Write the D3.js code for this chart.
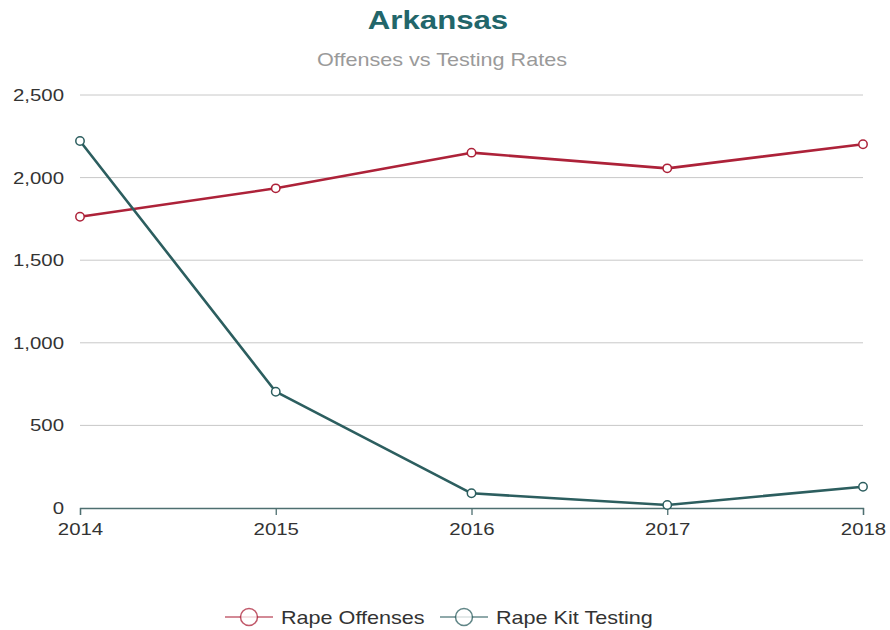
<!DOCTYPE html>
<html>
<head>
<meta charset="utf-8">
<script src="https://cdn.jsdelivr.net/npm/d3@7/dist/d3.min.js"></script>
<style>
  html, body { margin: 0; padding: 0; background: #fff; }
  svg { display: block; font-family: "Liberation Sans", Arial, Helvetica, sans-serif; }
</style>
</head>
<body>
<svg id="chart" width="890" height="630"></svg>
<script>
const years = ["2014", "2015", "2016", "2017", "2018"];
const rapeOffenses = [1763, 1935, 2151, 2056, 2202];
const rapeKitTesting = [2222, 704, 89, 18, 129];
const yTicks = [0, 500, 1000, 1500, 2000, 2500];
const seriesNames = ["Rape Offenses", "Rape Kit Testing"];
const seriesColors = ["#ad2239", "#2c5e5f"];

const series = [
  { name: seriesNames[0], color: seriesColors[0], values: rapeOffenses },
  { name: seriesNames[1], color: seriesColors[1], values: rapeKitTesting }
];

// Text is drawn slightly wide, so glyphs get a horizontal stretch.
const STRETCH = 1.2;

const svg = d3.select("#chart");
const margin = { left: 80, right: 27, top: 95, bottom: 122 };
const W = 890, H = 630;

const x = d3.scalePoint().domain(years).range([margin.left, W - margin.right]);
const y = d3.scaleLinear().domain([0, 2500]).range([H - margin.bottom, margin.top]);

function wideText(parent, px, py, anchor) {
  return parent.append("g")
    .attr("transform", `translate(${px},${py}) scale(${STRETCH},1)`)
    .append("text")
    .attr("text-anchor", anchor);
}

// Title and subtitle
wideText(svg, 438, 29, "middle")
  .attr("font-size", 26).attr("font-weight", "bold")
  .attr("fill", "#22666a")
  .text("Arkansas");
wideText(svg, 442, 66, "middle")
  .attr("font-size", 18)
  .attr("fill", "#9a9a9a")
  .text("Offenses vs Testing Rates");

// Horizontal grid lines
svg.append("g")
  .selectAll("line")
  .data(yTicks.filter(d => d > 0))
  .join("line")
  .attr("x1", margin.left).attr("x2", W - margin.right)
  .attr("y1", d => y(d)).attr("y2", d => y(d))
  .attr("stroke", "#c8c8c8").attr("stroke-width", 1);

// Y axis labels
const yAxis = d3.axisLeft(y).tickValues(yTicks).tickSize(0).tickPadding(0)
  .tickFormat(d3.format(","));
const yg = svg.append("g").attr("transform", `translate(${margin.left - 16},0)`).call(yAxis);
yg.select(".domain").remove();
yg.selectAll("text")
  .attr("x", 0)
  .attr("transform", `scale(${STRETCH},1)`)
  .attr("font-size", 17).attr("fill", "#333")
  .attr("font-family", "'Liberation Sans', Arial, sans-serif");

// X axis
const xAxis = d3.axisBottom(x).tickSize(7).tickPadding(8);
const xg = svg.append("g").attr("transform", `translate(0,${y(0)})`).call(xAxis);
xg.select(".domain").attr("stroke", "#4e6f70").attr("stroke-width", 1.3);
xg.selectAll(".tick line").attr("stroke", "#4e6f70").attr("stroke-width", 1.3);
xg.selectAll("text")
  .attr("transform", `scale(${STRETCH},1)`)
  .attr("font-size", 17).attr("fill", "#333")
  .attr("font-family", "'Liberation Sans', Arial, sans-serif");

// Lines and markers
const line = d3.line().x((d, i) => x(years[i])).y(d => y(d));
series.forEach(s => {
  svg.append("path")
    .datum(s.values)
    .attr("d", line)
    .attr("fill", "none")
    .attr("stroke", s.color)
    .attr("stroke-width", 2.6)
    .attr("stroke-linejoin", "round");
  svg.append("g")
    .selectAll("circle")
    .data(s.values)
    .join("circle")
    .attr("cx", (d, i) => x(years[i]))
    .attr("cy", d => y(d))
    .attr("r", 4.2)
    .attr("fill", "#fff")
    .attr("stroke", s.color)
    .attr("stroke-width", 1.5);
});

// Legend
const legendY = 617;
const legendItems = [
  { x: 225, s: series[0] },
  { x: 440, s: series[1] }
];
legendItems.forEach(({ x: lx, s }) => {
  const g = svg.append("g").attr("transform", `translate(${lx},${legendY})`);
  g.append("line").attr("x1", 0).attr("x2", 48).attr("y1", 0).attr("y2", 0)
    .attr("stroke", s.color).attr("stroke-width", 1.5).attr("opacity", 0.7);
  g.append("circle").attr("cx", 24).attr("cy", 0).attr("r", 8.5)
    .attr("fill", "#fff").attr("stroke", s.color).attr("stroke-width", 1.5).attr("opacity", 0.75);
  wideText(g, 56, 6.5, "start")
    .attr("font-size", 18).attr("fill", "#333")
    .text(s.name);
});
</script>
</body>
</html>
